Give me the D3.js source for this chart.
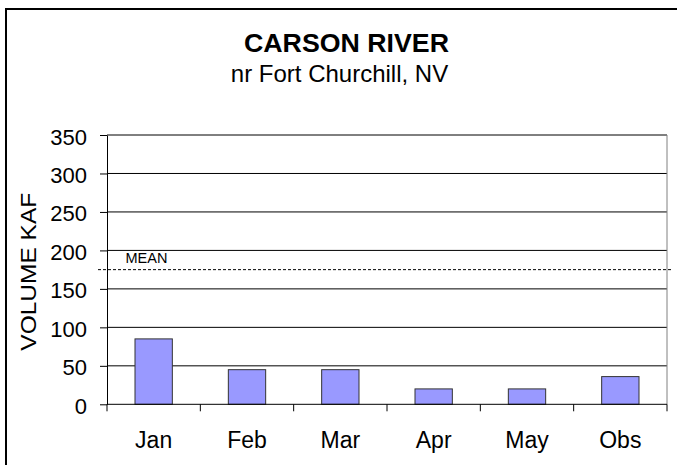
<!DOCTYPE html>
<html>
<head>
<meta charset="utf-8">
<script src="https://cdn.jsdelivr.net/npm/d3@7"></script>
<style>
  html, body { margin: 0; padding: 0; background: #fff; }
  svg { display: block; font-family: "Liberation Sans", Arial, sans-serif; }
</style>
</head>
<body>
<svg id="chart" width="677" height="465"></svg>
<script>
const categories = ["Jan", "Feb", "Mar", "Apr", "May", "Obs"];
const volumes = [85, 45, 45, 20, 20, 36];
const meanValue = 175;
const yTicks = [0, 50, 100, 150, 200, 250, 300, 350];
const titleText = "CARSON RIVER";
const subtitleText = "nr Fort Churchill, NV";
const yAxisTitle = "VOLUME KAF";
const meanLabel = "MEAN";

const svg = d3.select("#chart");

// outer frame (right/bottom edges fall outside the view)
svg.append("rect")
  .attr("x", 6).attr("y", 9)
  .attr("width", 700).attr("height", 500)
  .attr("fill", "none").attr("stroke", "#000").attr("stroke-width", 2);

const plot = { left: 107, right: 667, top: 135, bottom: 404.3 };

const x = d3.scaleBand().domain(categories).range([plot.left, plot.right]).padding(0);
const y = d3.scaleLinear().domain([0, 350]).range([plot.bottom, plot.top]);

// gridlines
svg.append("g").selectAll("line")
  .data(yTicks.filter(d => d > 0))
  .join("line")
  .attr("x1", plot.left).attr("x2", plot.right)
  .attr("y1", d => y(d)).attr("y2", d => y(d))
  .attr("stroke", "#000").attr("stroke-width", 1);

// right border of plot area
svg.append("line")
  .attr("x1", plot.right).attr("x2", plot.right)
  .attr("y1", y(350)).attr("y2", y(0))
  .attr("stroke", "#808080").attr("stroke-width", 1);

// mean line
svg.append("line")
  .attr("x1", plot.left - 9).attr("x2", plot.right + 5)
  .attr("y1", y(meanValue)).attr("y2", y(meanValue))
  .attr("stroke", "#000").attr("stroke-width", 1)
  .attr("stroke-dasharray", "3,2");

svg.append("text")
  .attr("x", 125.5).attr("y", y(meanValue) - 6.5)
  .attr("font-size", 14.5).attr("fill", "#000")
  .text(meanLabel);

// bars
svg.append("g").selectAll("rect")
  .data(categories.map((c, i) => ({ c, v: volumes[i] })))
  .join("rect")
  .attr("x", d => x(d.c) + x.bandwidth() * 0.3)
  .attr("width", x.bandwidth() * 0.4)
  .attr("y", d => y(d.v))
  .attr("height", d => y(0) - y(d.v))
  .attr("fill", "#9999FF")
  .attr("stroke", "#333333").attr("stroke-width", 1);

// y axis
const yAxis = svg.append("g")
  .attr("transform", `translate(${plot.left},0)`)
  .call(d3.axisLeft(y).tickValues(yTicks).tickSize(7).tickSizeOuter(0).tickPadding(13).tickFormat(d3.format("d")));
yAxis.select(".domain").attr("stroke", "#000");
yAxis.selectAll(".tick line").attr("stroke", "#000");
yAxis.selectAll(".tick text")
  .attr("font-size", 22).attr("font-family", "Liberation Sans, Arial, sans-serif")
  .attr("fill", "#000").attr("dy", "0.41em");

// x axis line
svg.append("line")
  .attr("x1", plot.left).attr("x2", plot.right)
  .attr("y1", y(0)).attr("y2", y(0))
  .attr("stroke", "#000").attr("stroke-width", 1);

// x boundary ticks
const boundaries = categories.map(c => x(c)).concat([plot.right]);
svg.append("g").selectAll("line")
  .data(boundaries)
  .join("line")
  .attr("x1", d => d).attr("x2", d => d)
  .attr("y1", y(0)).attr("y2", y(0) + 7)
  .attr("stroke", "#000").attr("stroke-width", 1);

// x labels
svg.append("g").selectAll("text")
  .data(categories)
  .join("text")
  .attr("x", d => x(d) + x.bandwidth() / 2)
  .attr("y", 447.5)
  .attr("text-anchor", "middle")
  .attr("font-size", 23).attr("fill", "#000")
  .text(d => d);

// y axis title
svg.append("text")
  .attr("transform", `translate(36,271.7) rotate(-90)`)
  .attr("text-anchor", "middle")
  .attr("font-size", 22).attr("fill", "#000")
  .attr("textLength", 158).attr("lengthAdjust", "spacingAndGlyphs")
  .text(yAxisTitle);

// titles
svg.append("text")
  .attr("x", 346.5).attr("y", 52.3)
  .attr("text-anchor", "middle")
  .attr("font-size", 25.5).attr("font-weight", "bold").attr("fill", "#000")
  .attr("textLength", 205).attr("lengthAdjust", "spacingAndGlyphs")
  .text(titleText);

svg.append("text")
  .attr("x", 339.5).attr("y", 81.7)
  .attr("text-anchor", "middle")
  .attr("font-size", 24).attr("fill", "#000")
  .text(subtitleText);
</script>
</body>
</html>
